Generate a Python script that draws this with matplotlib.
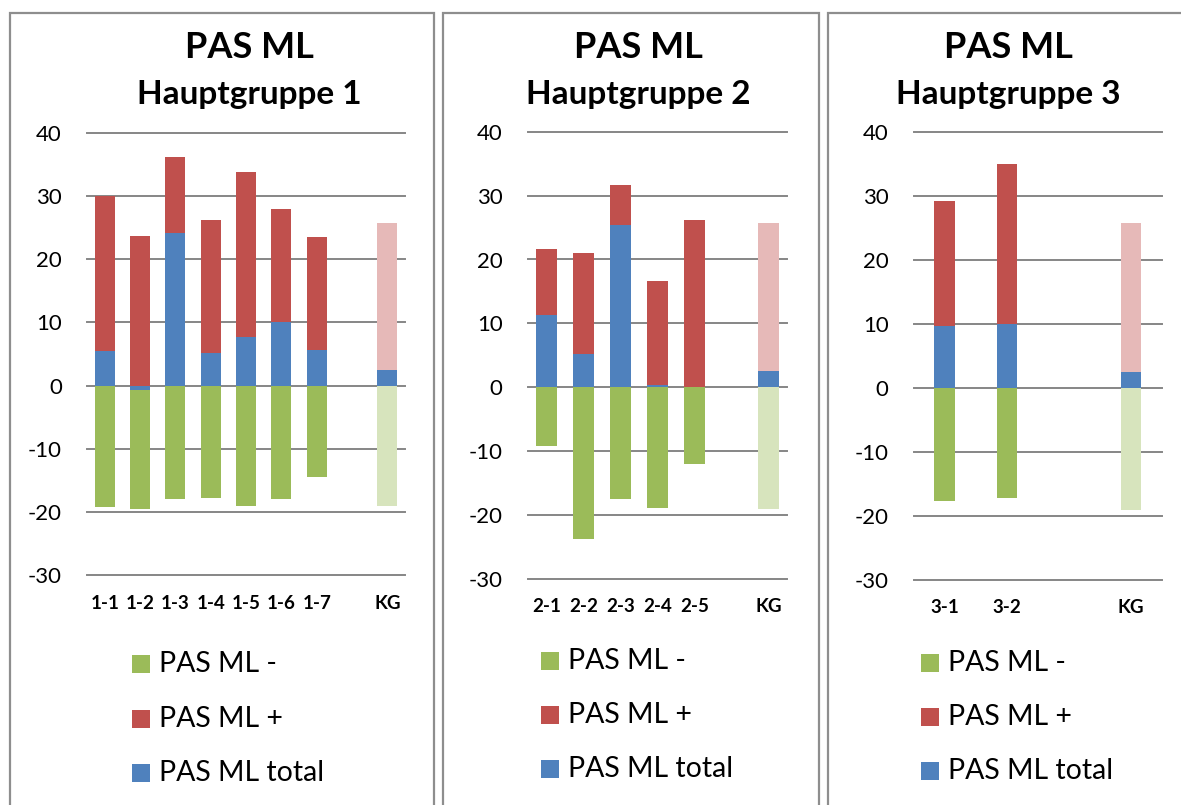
import numpy as np
import matplotlib
matplotlib.use("Agg")
import matplotlib.pyplot as plt
from matplotlib.patches import Rectangle

plt.rcParams['font.family'] = ['Lato', 'DejaVu Sans']

# ---------------- data ----------------
cats1 = ["1-1", "1-2", "1-3", "1-4", "1-5", "1-6", "1-7", "", "KG"]
plus1 = [30.0, 23.6, 36.2, 26.2, 33.8, 27.9, 23.5, None, 25.7]
total1 = [5.4, -0.7, 24.2, 5.1, 7.7, 10.0, 5.6, None, 2.5]
minus1 = [-19.2, -19.5, -18.0, -17.8, -19.1, -18.0, -14.5, None, -19.1]

cats2 = ["2-1", "2-2", "2-3", "2-4", "2-5", "", "KG"]
plus2 = [21.6, 21.0, 31.7, 16.7, 26.2, None, 25.7]
total2 = [11.3, 5.2, 25.4, 0.4, 0.0, None, 2.5]
minus2 = [-9.2, -23.7, -17.5, -18.9, -12.0, None, -19.1]

cats3 = ["3-1", "3-2", "", "KG"]
plus3 = [29.2, 34.9, None, 25.7]
total3 = [9.6, 10.0, None, 2.5]
minus3 = [-17.7, -17.2, None, -19.1]

main_title = "PAS ML"
sub_titles = ["Hauptgruppe 1", "Hauptgruppe 2", "Hauptgruppe 3"]
series_names = ["PAS ML -", "PAS ML +", "PAS ML total"]
yticks = [-30, -20, -10, 0, 10, 20, 30, 40]
control_label = "KG"

# ---------------- style ----------------
GREEN, RED, BLUE = '#9BBB59', '#C0504D', '#4F81BD'
GREEN_L, RED_L = '#D7E4BD', '#E6B9B8'
GRID = '#868686'
BORDER = '#8E8E8E'

W, H, DPI = 1181, 805, 100
fig = plt.figure(figsize=(W / DPI, H / DPI), dpi=DPI)


def fx(px):
    return px / W


def fy(py):
    return 1 - py / H


panels = [
    dict(cats=cats1, plus=plus1, total=total1, minus=minus1,
         box=(87, 132.7, 405, 575.3), border=(10, 13, 434), tx=249,
         bw=0.57, lx=132, ly=[664, 719, 773]),
    dict(cats=cats2, plus=plus2, total=total2, minus=minus2,
         box=(527.7, 131.7, 787, 579), border=(442.7, 13, 819), tx=638,
         bw=0.56, lx=541, ly=[661, 715, 769]),
    dict(cats=cats3, plus=plus3, total=total3, minus=minus3,
         box=(913.7, 131.7, 1162, 579.7), border=(827.7, 13, 1210), tx=1008,
         bw=0.33, lx=921, ly=[663, 717, 771]),
]

for i, p in enumerate(panels):
    # panel border
    bx0, by0, bx1 = p['border']
    fig.add_artist(Rectangle((fx(bx0), fy(830)), fx(bx1 - bx0), (830 - by0) / H,
                             transform=fig.transFigure, fill=False,
                             edgecolor=BORDER, linewidth=1.6, clip_on=False))

    x0, y0, x1, y1 = p['box']
    ax = fig.add_axes([fx(x0), fy(y1), fx(x1 - x0), (y1 - y0) / H])
    cats = p['cats']
    n = len(cats)
    idx = [k for k, c in enumerate(cats) if c != ""]
    xs = np.array(idx, dtype=float)
    plus = np.array([p['plus'][k] for k in idx], dtype=float)
    total = np.array([p['total'][k] for k in idx], dtype=float)
    minus = np.array([p['minus'][k] for k in idx], dtype=float)
    is_kg = [cats[k] == control_label for k in idx]

    red_cols = [RED_L if kg else RED for kg in is_kg]
    green_cols = [GREEN_L if kg else GREEN for kg in is_kg]

    ax.bar(xs, minus, width=p['bw'], color=green_cols, zorder=3, linewidth=0)
    ax.bar(xs, plus, width=p['bw'], color=red_cols, zorder=3, linewidth=0)
    ax.bar(xs, total, width=p['bw'], color=BLUE, zorder=4, linewidth=0)

    ax.set_xlim(-0.5, n - 0.5)
    ax.set_ylim(-30, 40)
    ax.set_yticks(yticks)
    ax.set_yticklabels([str(v) for v in yticks], fontsize=16)
    ax.set_xticks(range(n))
    ax.set_xticklabels(cats, fontsize=13.5, fontweight='bold')
    ax.tick_params(axis='y', length=0, pad=18)
    ax.tick_params(axis='x', length=0, pad=14)
    for s in ax.spines.values():
        s.set_visible(False)
    ax.yaxis.grid(True, color=GRID, linewidth=1.4, zorder=0)
    ax.set_axisbelow(True)
    for gl in ax.get_ygridlines():
        gl.set_clip_on(False)
    ax.patch.set_alpha(0)

    # titles
    fig.text(fx(p['tx']), fy(58), main_title, ha='center', va='baseline',
             fontsize=26, fontweight='bold')
    fig.text(fx(p['tx']), fy(104), sub_titles[i], ha='center', va='baseline',
             fontsize=24, fontweight='bold')

    # legend
    for name, col, yy in zip(series_names, [GREEN, RED, BLUE], p['ly']):
        fig.add_artist(Rectangle((fx(p['lx']), fy(yy + 9)), fx(18), 18 / H,
                                 transform=fig.transFigure, facecolor=col,
                                 edgecolor='none'))
        fig.text(fx(p['lx'] + 27), fy(yy), name, ha='left', va='center',
                 fontsize=20.5)

fig.savefig('out.png', dpi=DPI, facecolor='white')
